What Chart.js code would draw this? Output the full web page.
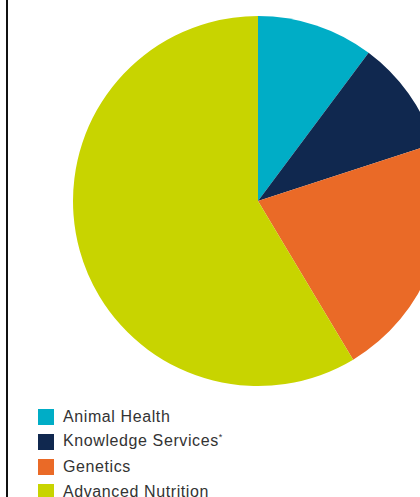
<!DOCTYPE html>
<html>
<head>
<meta charset="utf-8">
<script src="https://cdn.jsdelivr.net/npm/chart.js@4"></script>
<style>
  html, body { margin: 0; padding: 0; background: #fff; }
  body { width: 420px; height: 497px; overflow: hidden; position: relative; }
  .rule { position: absolute; left: 6px; top: 0; width: 2px; height: 497px; background: #111; }
  #wrap { position: absolute; left: 0; top: 0; width: 516px; height: 402px; }
  #legend { position: absolute; left: 38px; top: 404px; font-family: "Liberation Sans", Arial, sans-serif; font-size: 16px; letter-spacing: 0.6px; color: #333; }
  #legend .row { height: 25px; display: flex; align-items: center; }
  #legend .box { width: 16px; height: 16px; margin-right: 9px; }
  #legend sup { font-size: 9px; }
</style>
</head>
<body>
<div class="rule"></div>
<div id="wrap"><canvas id="chart"></canvas></div>
<div id="legend"></div>
<script>
const labels = ['Animal Health', 'Knowledge Services*', 'Genetics', 'Advanced Nutrition'];
const shares = [10.2, 9.8, 21.4, 58.6];
const colors = ['#00adc6', '#10284f', '#ea6a27', '#c8d400'];

const ctx = document.getElementById('chart').getContext('2d');
const chart = new Chart(ctx, {
  type: 'pie',
  data: {
    labels: labels,
    datasets: [{
      data: shares,
      backgroundColor: colors,
      borderWidth: 0,
    }],
  },
  options: {
    responsive: true,
    maintainAspectRatio: false,
    animation: false,
    layout: { padding: 16 },
    plugins: {
      legend: { display: false },
      tooltip: { enabled: false },
    },
  },
});

// legend below the pie, built from the same arrays
const legend = document.getElementById('legend');
labels.forEach((name, i) => {
  const row = document.createElement('div');
  row.className = 'row';
  const box = document.createElement('span');
  box.className = 'box';
  box.style.background = colors[i];
  const txt = document.createElement('span');
  txt.innerHTML = name.replace('*', '<sup>*</sup>');
  row.appendChild(box);
  row.appendChild(txt);
  legend.appendChild(row);
});
</script>
</body>
</html>
